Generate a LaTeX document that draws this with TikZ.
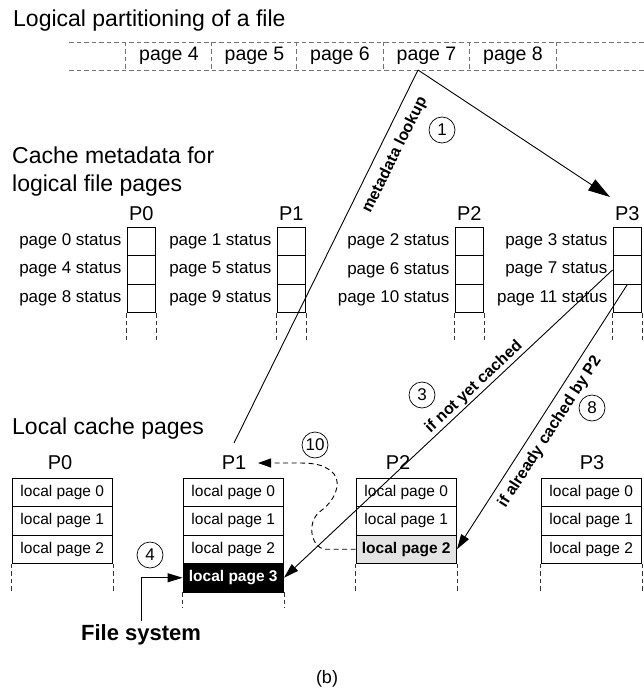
\documentclass[tikz,border=0pt]{standalone}
\usepackage{fontspec}
\setmainfont{Liberation Sans}
\usetikzlibrary{arrows.meta}
\begin{document}
\begin{tikzpicture}[x=1pt,y=1pt,
  heading/.style={anchor=base west,inner sep=0pt,font=\fontsize{23}{27}\selectfont},
  striplbl/.style={minimum width=86pt,minimum height=28pt,inner sep=0pt,font=\fontsize{19.5}{22}\selectfont},
  gdash/.style={draw=black!55,dash pattern=on 4.5pt off 3pt,line width=0.9pt},
  mcell/.style={draw,line width=0.9pt,minimum width=28.5pt,minimum height=28.6pt,inner sep=0pt},
  statlbl/.style={anchor=east,inner sep=0pt,font=\fontsize{17}{20}\selectfont},
  plbl/.style={font=\fontsize{20}{24}\selectfont,inner sep=1pt},
  lcell/.style={draw,line width=0.9pt,minimum width=100.5pt,minimum height=28.5pt,inner sep=0pt,font=\fontsize{15.5}{18}\selectfont},
  num/.style={circle,draw,line width=0.7pt,minimum size=26pt,inner sep=0pt,font=\fontsize{17}{20}\selectfont},
  slopelbl/.style={font=\bfseries\fontsize{16}{19}\selectfont,inner sep=0pt},
  conn/.style={line width=0.9pt},
  tip/.style={-{Triangle[length=15pt,width=9pt]}},
]
\path[use as bounding box] (0,0) rectangle (644,-690);

% headings
\node[heading] (h1) at (13,-27) {Logical partitioning of a file};
\node[heading] (h2) at (12,-163) {Cache metadata for};
\node[heading] (h3) at (12,-191) {logical file pages};
\node[heading] (h4) at (12,-434) {Local cache pages};

% logical file strip
\draw[gdash] (69,-42) -- (644,-42);
\draw[gdash] (69,-70) -- (644,-70);
\foreach \n/\x in {4/169,5/254.5,6/340,7/426.5,8/513}{
  \node[striplbl] (pg\n) at (\x,-56) {page \n};
  \draw[gdash] (pg\n.north west) -- (pg\n.south west);
}
\draw[gdash] (pg8.north east) -- (pg8.south east);

% metadata columns
\foreach \c/\xl in {0/127,1/277,2/455,3/613}{
  \node[plbl] (mp\c) at (\xl+14.25,-214) {P\c};
  \foreach \r in {0,1,2}{
    \pgfmathtruncatemacro\pg{\c+4*\r}
    \node[mcell] (m\c\r) at (\xl+14.25,{-241.3-28.6*\r}) {};
    \node[statlbl] (s\c\r) at ([xshift=-5pt]m\c\r.west) {page \pg{} status};
  }
  \draw[gdash,draw=black!80] (m\c2.south west) -- ++(0,-30);
  \draw[gdash,draw=black!80] (m\c2.south east) -- ++(0,-30);
}

% local cache columns
\foreach \c/\xl/\lx in {0/12/60,1/183/234,2/356/398,3/541/592}{
  \node[plbl] (lp\c) at (\lx,-463) {P\c};
  \node[lcell] (l\c0) at (\xl+50.25,-492.25) {local page 0};
  \node[lcell] (l\c1) at (\xl+50.25,-520.75) {local page 1};
}
\node[lcell] (l02) at (62.25,-549.25) {local page 2};
\node[lcell] (l12) at (233.25,-549.25) {local page 2};
\node[lcell,fill=black!11,font=\bfseries\fontsize{15.5}{18}\selectfont] (l22) at (406.25,-549.25) {local page 2};
\node[lcell] (l32) at (591.25,-549.25) {local page 2};
\node[lcell,fill=black,text=white,font=\bfseries\fontsize{15.5}{18}\selectfont] (l13) at (233.25,-577.75) {local page 3};
\foreach \n in {02,22,32}{
  \draw[gdash,draw=black!80] (l\n.south west) -- ++(0,-30);
  \draw[gdash,draw=black!80] (l\n.south east) -- ++(0,-30);
}
\draw[gdash,draw=black!80] (l13.south west) -- ++(0,-16);
\draw[gdash,draw=black!80] (l13.south east) -- ++(0,-16);

% connectors
\coordinate (ap) at (418,-70);
\coordinate (e1) at (234,-443);
\coordinate (e2) at (610,-197);
\coordinate (e10) at (258,-463);
\draw[conn] (ap) -- (e1);
\draw[conn,-{Triangle[length=22pt,width=13pt]}] (ap) -- (e2);
\draw[conn,tip] (m31.west) -- (l13.east);
\draw[conn,tip] (m31.south) -- (l22.east);
\draw[conn,dashed,dash pattern=on 5pt off 3.5pt,-{Triangle[length=13pt,width=9pt]}]
  (l22.west) -- (325,-549.25) .. controls (310,-547) and (306,-520) .. (322,-510)
  .. controls (334,-501) and (342,-484) .. (334,-474)
  .. controls (326,-465) and (315,-463) .. (300,-463) -- (e10);

% slope labels
\node[slopelbl,rotate=63.6] (t1) at (395,-155) {metadata lookup};
\node[slopelbl,rotate=43.1] (t3) at (474,-387) {if not yet cached};
\node[slopelbl,rotate=57.2] (t8) at (550,-432) {if already cached by P2};

% step numbers
\node[num] (n1) at (442,-130) {1};
\node[num] (n3) at (422,-395) {3};
\node[num] (n8) at (592,-408) {8};
\node[num] (n10) at (315,-445) {10};
\node[num] (n4) at (150,-555) {4};

% file system
\node[anchor=base,inner sep=3pt,font=\bfseries\fontsize{22}{26}\selectfont] (fs) at (141,-640) {File system};
\draw[conn,tip] (fs.north) |- (l13.west);

\node[font=\fontsize{18}{22}\selectfont] (cap) at (327,-679) {(b)};
\end{tikzpicture}
\end{document}
